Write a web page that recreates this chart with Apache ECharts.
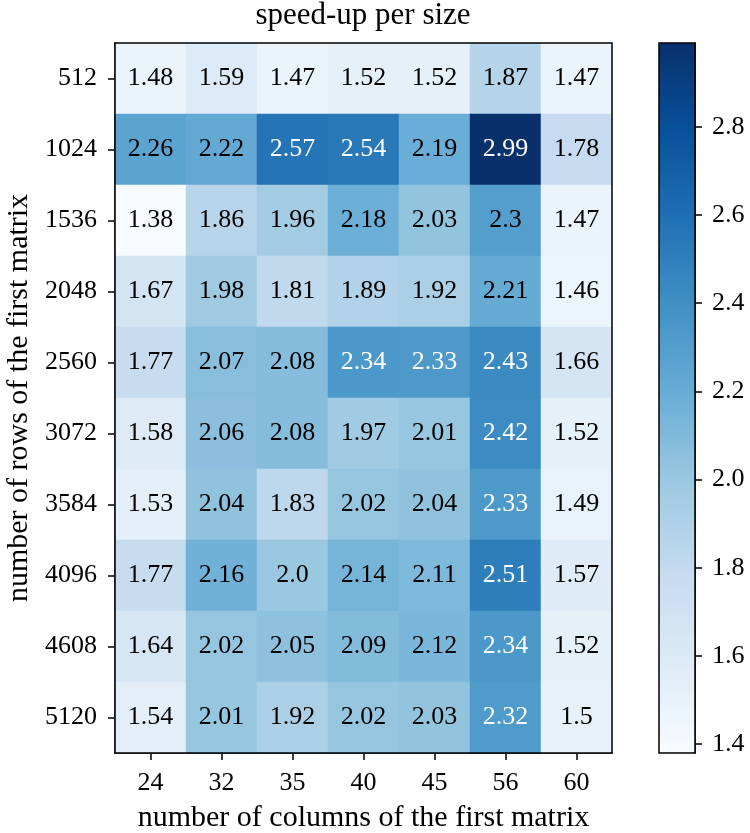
<!DOCTYPE html>
<html>
<head>
<meta charset="utf-8">
<script src="https://cdn.jsdelivr.net/npm/echarts@6/dist/echarts.min.js"></script>
<style>
  html, body { margin: 0; padding: 0; background: #fff; }
  #chart { width: 750px; height: 833px; }
</style>
</head>
<body>
<div id="chart"></div>
<script>
// columns / rows of the first matrix
var colSizes = ['24', '32', '35', '40', '45', '56', '60'];
var rowSizes = ['512', '1024', '1536', '2048', '2560', '3072', '3584', '4096', '4608', '5120'];

// speed-up values, one array per row
var row512  = [1.48, 1.59, 1.47, 1.52, 1.52, 1.87, 1.47];
var row1024 = [2.26, 2.22, 2.57, 2.54, 2.19, 2.99, 1.78];
var row1536 = [1.38, 1.86, 1.96, 2.18, 2.03, 2.3, 1.47];
var row2048 = [1.67, 1.98, 1.81, 1.89, 1.92, 2.21, 1.46];
var row2560 = [1.77, 2.07, 2.08, 2.34, 2.33, 2.43, 1.66];
var row3072 = [1.58, 2.06, 2.08, 1.97, 2.01, 2.42, 1.52];
var row3584 = [1.53, 2.04, 1.83, 2.02, 2.04, 2.33, 1.49];
var row4096 = [1.77, 2.16, 2.0, 2.14, 2.11, 2.51, 1.57];
var row4608 = [1.64, 2.02, 2.05, 2.09, 2.12, 2.34, 1.52];
var row5120 = [1.54, 2.01, 1.92, 2.02, 2.03, 2.32, 1.5];

var colorbarTicks = [1.4, 1.6, 1.8, 2.0, 2.2, 2.4, 2.6, 2.8];
var scaleMin = 1.38, scaleMax = 2.99;

var rows = [row512, row1024, row1536, row2048, row2560, row3072, row3584, row4096, row4608, row5120];
var blues = ['#f7fbff', '#deebf7', '#c6dbef', '#9ecae1', '#6baed6', '#4292c6', '#2171b5', '#08519c', '#08306b'];
var font = 'Liberation Serif';

function fmt(v) {
  var s = String(v);
  return s.indexOf('.') < 0 ? s + '.0' : s;
}

var cells = [];
rows.forEach(function (r, i) {
  r.forEach(function (v, j) {
    cells.push({
      value: [j, i, v],
      label: { color: v > 2.31 ? '#fff' : '#000' }
    });
  });
});

var tickStyle = { show: true, length: 7, lineStyle: { color: '#000', width: 1.5 } };

var chart = echarts.init(document.getElementById('chart'));
var option = {
  backgroundColor: '#fff',
  animation: false,
  title: {
    text: 'speed-up per size',
    left: 363,
    textAlign: 'center',
    top: 0,
    padding: 0,
    textStyle: { fontFamily: font, fontSize: 31, fontWeight: 'normal', color: '#000' }
  },
  grid: [
    { left: 115, top: 43, width: 497, height: 710, show: true, z: 10, outerBoundsMode: 'none',
      backgroundColor: 'transparent', borderColor: '#000', borderWidth: 1.5 },
    { left: 659, top: 43, width: 36, height: 710, show: true, z: 10, outerBoundsMode: 'none',
      backgroundColor: 'transparent', borderColor: '#000', borderWidth: 1.5 }
  ],
  xAxis: [
    {
      type: 'category', gridIndex: 0, data: colSizes,
      name: 'number of columns of the first matrix',
      nameLocation: 'middle', nameGap: 50,
      nameTextStyle: { fontFamily: font, fontSize: 30, color: '#000' },
      axisLine: { show: true, lineStyle: { color: '#000', width: 1.5 } },
      axisTick: Object.assign({ alignWithLabel: true }, tickStyle),
      axisLabel: { fontFamily: font, fontSize: 26, color: '#000', margin: 17 },
      splitLine: { show: false }
    },
    {
      type: 'value', gridIndex: 1, min: 0, max: 1, show: false
    }
  ],
  yAxis: [
    {
      type: 'category', gridIndex: 0, data: rowSizes, inverse: true,
      name: 'number of rows of the first matrix',
      nameLocation: 'middle', nameGap: 78,
      nameTextStyle: { fontFamily: font, fontSize: 30, color: '#000' },
      axisLine: { show: true, lineStyle: { color: '#000', width: 1.5 } },
      axisTick: Object.assign({ alignWithLabel: true }, tickStyle),
      axisLabel: { fontFamily: font, fontSize: 26, color: '#000', margin: 18 },
      splitLine: { show: false }
    },
    {
      type: 'value', gridIndex: 1, position: 'right',
      min: scaleMin, max: scaleMax,
      axisLine: { show: true, onZero: false, lineStyle: { color: '#000', width: 1.5 } },
      axisTick: Object.assign({ customValues: colorbarTicks }, tickStyle),
      axisLabel: { fontFamily: font, fontSize: 26, color: '#000', margin: 17,
        customValues: colorbarTicks,
        formatter: function (v) { return fmt(+v.toFixed(1)); } },
      splitLine: { show: false }
    }
  ],
  visualMap: {
    type: 'continuous',
    seriesIndex: 0,
    dimension: 2,
    min: scaleMin, max: scaleMax,
    calculable: false,
    orient: 'vertical',
    left: 659, top: 43,
    itemWidth: 36, itemHeight: 710,
    padding: 0,
    text: null,
    inRange: { color: blues }
  },
  series: [
    {
      type: 'heatmap',
      xAxisIndex: 0, yAxisIndex: 0,
      data: cells,
      label: {
        show: true,
        fontFamily: font, fontSize: 26,
        formatter: function (p) { return fmt(p.value[2]); }
      },
      itemStyle: { borderWidth: 0 },
      emphasis: { disabled: true }
    }
  ]
};
chart.setOption(option);
</script>
</body>
</html>
